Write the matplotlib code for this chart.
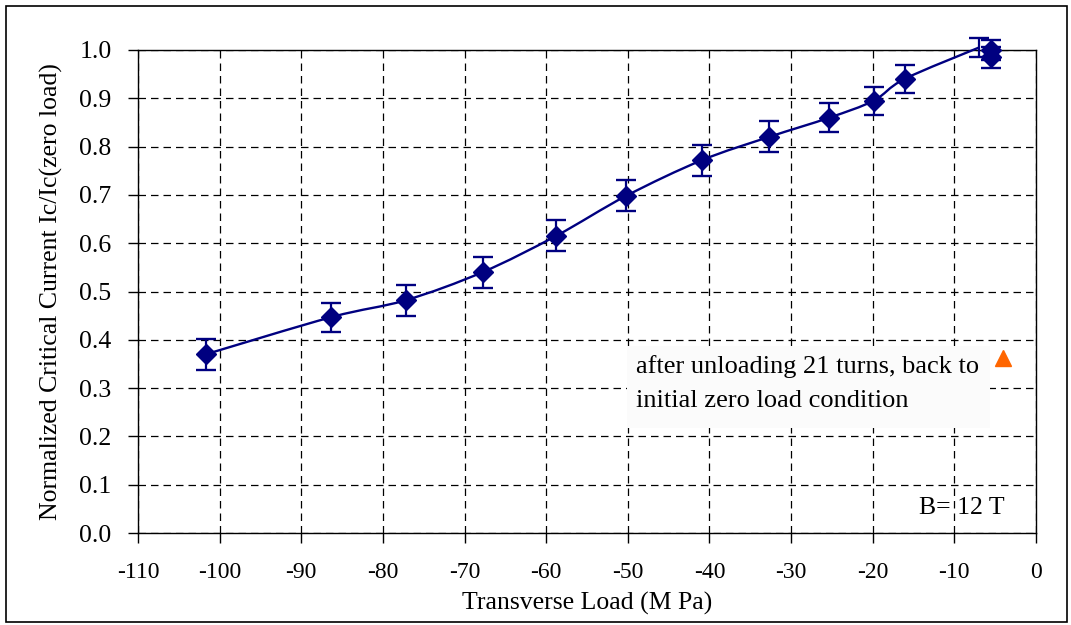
import matplotlib
matplotlib.use("Agg")
import matplotlib.pyplot as plt
from matplotlib.path import Path
from matplotlib.patches import PathPatch, Rectangle

# Measured critical current vs. transverse load
load_mpa = [-101.7, -86.3, -77.2, -67.8, -58.8, -50.2, -40.9, -32.7, -25.3, -19.9, -16.1, -7.0]
ic_norm = [0.370, 0.447, 0.482, 0.540, 0.615, 0.698, 0.772, 0.820, 0.860, 0.895, 0.940, 1.005]
ic_err = [0.032, 0.030, 0.032, 0.032, 0.032, 0.032, 0.032, 0.032, 0.030, 0.029, 0.029, 0.020]

# Repeated measurements near zero load
repeat_load = [-5.5, -5.5]
repeat_ic = [1.000, 0.985]
repeat_err = [0.020, 0.022]

# Point after unloading (legend symbol in the note)
unload_marker = (-4.0, 0.362)

xticks = list(range(-110, 1, 10))
yticks = [i / 10 for i in range(0, 11)]

plt.rcParams["font.family"] = ["Liberation Serif", "DejaVu Serif"]
navy = "#000080"

fig = plt.figure(figsize=(10.71, 6.25), dpi=100)
ax = fig.add_axes([138 / 1071, 1 - 533 / 625, (1036 - 138) / 1071, (533 - 50) / 625])

# Smoothed line through the measurements (cardinal Bezier segments)
pts = list(zip(load_mpa, ic_norm))
n = len(pts)
verts = [pts[0]]
codes = [Path.MOVETO]
for i in range(n - 1):
    p0 = pts[i - 1] if i > 0 else pts[i]
    p1 = pts[i]
    p2 = pts[i + 1]
    p3 = pts[i + 2] if i + 2 < n else pts[i + 1]
    c1 = (p1[0] + (p2[0] - p0[0]) / 6, p1[1] + (p2[1] - p0[1]) / 6)
    c2 = (p2[0] - (p3[0] - p1[0]) / 6, p2[1] - (p3[1] - p1[1]) / 6)
    verts += [c1, c2, p2]
    codes += [Path.CURVE4] * 3
ax.add_patch(PathPatch(Path(verts, codes), facecolor="none", edgecolor=navy,
                       lw=1.7, zorder=3, clip_on=False))

ax.errorbar(load_mpa, ic_norm, yerr=ic_err, fmt="none", ecolor=navy,
            elinewidth=1.6, capsize=7, capthick=1.7, zorder=4, clip_on=False)
ax.plot(load_mpa[:-1], ic_norm[:-1], linestyle="none", marker="D", markersize=10.5,
        color=navy, zorder=5, clip_on=False)

ax.errorbar(repeat_load, repeat_ic, yerr=repeat_err, fmt="D", markersize=10.5,
            color=navy, ecolor=navy, elinewidth=1.6, capsize=7, capthick=1.7,
            zorder=5, clip_on=False)

ax.plot([unload_marker[0]], [unload_marker[1]], linestyle="none", marker="^",
        markersize=12, color="#ff6600", clip_on=False, zorder=6)

ax.set_xlim(-110, 0)
ax.set_ylim(0, 1.0)
ax.set_xticks(xticks)
ax.set_xticklabels([str(t) for t in xticks])
ax.set_yticks(yticks)
ax.set_yticklabels([f"{t:.1f}" for t in yticks])
ax.tick_params(direction="out", length=7, width=1)
ax.tick_params(axis="x", labelsize=17, pad=14)
ax.tick_params(axis="y", labelsize=18.5, pad=12)
ax.grid(True, color="black", linestyle=(0, (6, 4)), linewidth=0.9)
ax.set_axisbelow(True)
for s in ax.spines.values():
    s.set_linewidth(1.0)
    s.set_color("black")

ax.set_xlabel("Transverse Load (M Pa)", fontsize=18.5)
ax.xaxis.set_label_coords(0.5, -0.122)
ax.set_ylabel("Normalized Critical Current Ic/Ic(zero load)", fontsize=18.5)
ax.yaxis.set_label_coords(-0.083, 0.5)

# Note about unloading
note_box = Rectangle((-50.1, 0.217), 44.5, 0.17, facecolor="#fbfbfb",
                     edgecolor="none", zorder=2.5)
ax.add_patch(note_box)
ax.text(-49.0, 0.31, "after unloading 21 turns, back to\ninitial zero load condition",
        fontsize=19, va="center", ha="left", linespacing=1.7, zorder=6)

ax.text(-3.8, 0.052, "B= 12 T", fontsize=18.5, ha="right", va="center", zorder=6)

# Border around the whole figure
fig.patches.append(Rectangle((6 / 1071, 3 / 625), 1061 / 1071, 616 / 625,
                             transform=fig.transFigure, fill=False,
                             edgecolor="black", linewidth=1.2))

fig.savefig("out.png", dpi=100)
